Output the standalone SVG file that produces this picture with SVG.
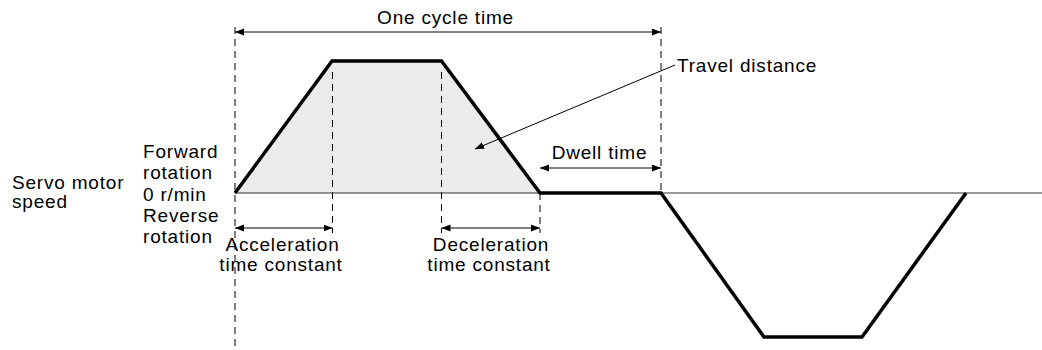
<svg xmlns="http://www.w3.org/2000/svg" width="1042" height="350" viewBox="0 0 1042 350">
<style>
text{font-family:"Liberation Sans",Arial,sans-serif;font-size:19px;letter-spacing:0.8px;fill:#000}
.c{text-anchor:middle}
.dash{stroke:#000;stroke-width:1;stroke-dasharray:7 5;fill:none}
.dim{stroke:#000;stroke-width:1;fill:none;marker-start:url(#ah);marker-end:url(#ah)}
</style>
<defs>
<marker id="ah" markerUnits="userSpaceOnUse" markerWidth="10" markerHeight="8" refX="9" refY="3.5" orient="auto-start-reverse"><path d="M0,0 L9,3.5 L0,7 z" fill="#000"/></marker>
<marker id="ah2" markerUnits="userSpaceOnUse" markerWidth="10" markerHeight="8" refX="9" refY="3.5" orient="auto"><path d="M0,0 L9,3.5 L0,7 z" fill="#000"/></marker>
</defs>
<rect width="1042" height="350" fill="#fff"/>
<g id="area">
<polygon points="235,193 332,61 441.5,61 540,193" fill="#ebebeb"/>
</g>
<g id="guides">
<line class="dash" x1="235" y1="27" x2="235" y2="350"/>
<line class="dash" x1="332.5" y1="72" x2="332.5" y2="233"/>
<line class="dash" x1="441.5" y1="72" x2="441.5" y2="233"/>
<line class="dash" x1="540" y1="193" x2="540" y2="233"/>
<line class="dash" x1="661" y1="27" x2="661" y2="193"/>
</g>
<g id="axis">
<line x1="235" y1="193" x2="1042" y2="193" stroke="#333" stroke-width="1.2"/>
</g>
<g id="speed-curve">
<polyline points="235,193 332,61 441.5,61 540,193 661,193 764,337 862,337 966,193" fill="none" stroke="#000" stroke-width="3.5" stroke-linejoin="miter"/>
</g>
<g id="connectors">
<line class="dim" x1="235" y1="32" x2="661" y2="32"/>
<line class="dim" x1="540" y1="168" x2="661" y2="168"/>
<line class="dim" x1="235" y1="228" x2="332.5" y2="228"/>
<line class="dim" x1="441.5" y1="228" x2="540" y2="228"/>
<line x1="675" y1="65" x2="475" y2="149" stroke="#000" stroke-width="1" marker-end="url(#ah2)"/>
</g>
<g id="labels">
<text class="c" x="445.5" y="24">One cycle time</text>
<text x="677" y="72">Travel distance</text>
<text class="c" x="599.5" y="159">Dwell time</text>
<text x="12" y="189">Servo motor</text>
<text x="12" y="208">speed</text>
<text x="143" y="158">Forward</text>
<text x="143" y="179">rotation</text>
<text x="143" y="200.5">0 r/min</text>
<text x="143" y="222">Reverse</text>
<text x="143" y="243">rotation</text>
<text class="c" x="282.5" y="251">Acceleration</text>
<text class="c" x="281" y="271">time constant</text>
<text class="c" x="491" y="251">Deceleration</text>
<text class="c" x="489" y="271">time constant</text>
</g>
</svg>
